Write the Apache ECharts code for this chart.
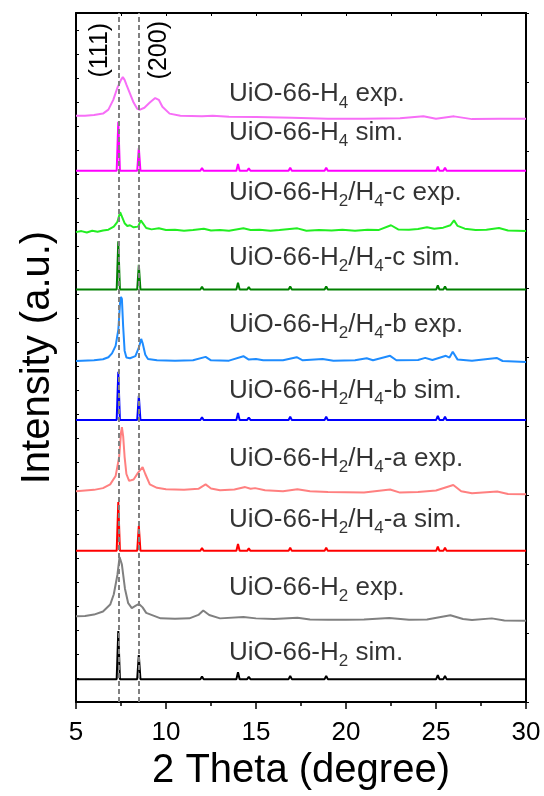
<!DOCTYPE html>
<html>
<head>
<meta charset="utf-8">
<script src="https://cdn.jsdelivr.net/npm/echarts@6/dist/echarts.min.js"></script>
<style>html,body{margin:0;padding:0;background:#fff}#c{width:544px;height:796px}</style>
</head>
<body>
<div id="c"></div>
<script>
// ---------- DATA ----------
const xTicks = [5, 10, 15, 20, 25, 30];
const refLines = [7.35, 8.48];           // (111), (200) reflections
const refLabels = ['(111)', '(200)'];
const refLabelPos = [[6.33, 94.6], [9.64, 94.6]];

// simulated peak positions (deg) shared by all simulated patterns
const simPeakPos = [7.35, 8.49, 12.0, 14.0, 14.6, 16.9, 18.9, 24.0, 25.1, 25.5, 28.0, 29.5];
const simH2     = [7.0, 3.5, 0.4, 1.0, 0.35, 0.45, 0.45, 0.25, 0.6, 0.45, 0.25, 0.2];
const simH2H4a  = [7.1, 3.6, 0.4, 1.0, 0.35, 0.45, 0.45, 0.25, 0.6, 0.45, 0.25, 0.2];
const simH2H4b  = [7.0, 3.5, 0.4, 1.0, 0.35, 0.45, 0.45, 0.25, 0.6, 0.45, 0.25, 0.2];
const simH2H4c  = [7.0, 3.6, 0.4, 1.0, 0.35, 0.45, 0.45, 0.25, 0.6, 0.45, 0.25, 0.2];
const simH4     = [7.1, 3.3, 0.4, 1.0, 0.35, 0.45, 0.45, 0.25, 0.6, 0.45, 0.25, 0.2];

// experimental patterns [2theta, intensity above own baseline]
const expH2 = [[5,0],[5.5,0.05],[6,0.25],[6.5,0.7],[6.9,1.7],[7.1,3.2],[7.3,6.0],[7.42,8.6],[7.55,7.5],[7.72,4.0],[7.9,1.9],[8.1,1.2],[8.3,1.5],[8.5,1.8],[8.7,1.3],[8.9,0.5],[9.3,0.1],[9.7,-0.3],[10.5,-0.35],[11.3,-0.3],[11.8,0.2],[12.07,0.85],[12.4,0.2],[13,-0.3],[14.3,-0.1],[15,-0.3],[16,-0.4],[17.3,-0.2],[18,-0.45],[19,-0.5],[20,-0.5],[21,-0.45],[22.4,-0.25],[23.5,-0.5],[24.5,-0.45],[25.8,0.15],[26.5,-0.4],[27,-0.55],[28.1,-0.3],[28.8,-0.6],[30,-0.65]];
const expH2H4a = [[5,0],[6,0.2],[6.5,0.45],[6.9,1.0],[7.2,2.2],[7.4,5.0],[7.5,8.5],[7.55,9.3],[7.62,8.0],[7.7,5.0],[7.8,2.5],[7.95,1.5],[8.2,1.7],[8.45,2.7],[8.7,3.5],[8.85,2.5],[9.1,1.0],[9.5,0.5],[10,0.3],[11,0.2],[11.8,0.35],[12.2,1.0],[12.5,0.4],[13,0.15],[13.8,0.25],[14.4,0.6],[14.7,0.35],[14.95,0.45],[15.5,0.15],[16.5,0],[17.3,0.3],[18,0],[19,-0.1],[20,-0.15],[21,-0.2],[22.45,0.25],[23,-0.2],[24,-0.1],[25,0.1],[25.96,0.9],[26.4,0],[27,-0.3],[28.4,-0.05],[29,-0.4],[30,-0.45]];
const expH2H4b = [[5,0],[6,0.1],[6.5,0.25],[6.8,0.55],[7.0,1.1],[7.2,2.2],[7.35,4.5],[7.45,8.5],[7.5,9.3],[7.55,9.0],[7.62,5],[7.7,1.5],[7.8,0.5],[8.0,0.4],[8.3,0.7],[8.5,2.0],[8.62,3.2],[8.7,2.6],[8.85,0.9],[9.0,0.3],[9.5,0.1],[10.5,0.05],[11.5,0.1],[12.2,0.6],[12.5,0.1],[13.5,0.05],[14.3,0.7],[14.6,0.2],[15.0,0.3],[15.4,0.1],[16.5,0.1],[17.26,0.55],[17.6,0.1],[18.7,0.3],[19.3,0.05],[20.5,0.1],[21.15,0.4],[21.5,0.1],[22.45,0.75],[22.8,0.1],[24.0,0.15],[24.4,0.45],[24.8,0.15],[25.55,0.75],[25.75,0.5],[25.93,1.35],[26.2,0.2],[27,0.05],[28.37,0.45],[28.7,0],[30,-0.15]];
const expH2H4c = [[5,0],[5.3,0.15],[5.6,-0.05],[5.9,0.2],[6.2,0.05],[6.5,0.25],[6.8,0.35],[7.1,0.8],[7.3,1.5],[7.45,2.9],[7.55,2.8],[7.7,1.3],[7.85,0.9],[8.0,1.0],[8.2,0.7],[8.45,0.8],[8.6,1.7],[8.7,1.5],[8.9,0.6],[9.2,0.4],[9.6,0.55],[10,0.3],[10.5,0.35],[11,0.2],[11.5,0.3],[12.1,0.5],[12.5,0.25],[13,0.3],[13.5,0.2],[14.3,0.55],[14.7,0.3],[15.2,0.35],[15.8,0.2],[16.3,0.3],[17.3,0.55],[17.8,0.2],[18.5,0.3],[19.2,0.25],[19.8,0.35],[20.5,0.2],[21.2,0.35],[21.8,0.3],[22.5,1.0],[22.9,0.4],[23.5,0.35],[24.0,0.45],[24.5,0.7],[24.9,0.5],[25.4,0.65],[25.8,1.0],[26.0,1.7],[26.2,0.9],[26.6,0.5],[27.2,0.3],[27.8,0.35],[28.5,0.6],[29,0.25],[29.5,0.2],[30,0.15]];
const expH4 = [[5,-0.1],[5.5,-0.1],[6,0],[6.5,0.2],[6.8,0.77],[7.07,2.2],[7.3,3.95],[7.5,5.1],[7.6,5.5],[7.7,5.1],[7.8,4.4],[8.0,3.1],[8.2,1.8],[8.4,0.9],[8.56,0.77],[8.8,1.05],[9.1,1.8],[9.4,2.46],[9.6,2.2],[9.8,1.2],[10.2,0.2],[10.8,-0.1],[12.0,-0.17],[12.6,-0.1],[13.5,-0.25],[15,-0.3],[17,-0.4],[19,-0.54],[21,-0.54],[23,-0.46],[24.3,-0.17],[25,-0.54],[26.0,-0.2],[27,-0.6],[28.5,-0.54],[30,-0.54]];

// stacking offsets (baselines)
const offsets = {
  h2sim: 3.33, h2exp: 12.45, asim: 21.95, aexp: 30.6, bsim: 40.95,
  bexp: 49.5, csim: 59.87, cexp: 68.2, h4sim: 77.1, h4exp: 85.2
};

const labelX = 13.5;
const labelTexts = [
  '{n|UiO-66-H}{s|4}{n| exp.}',
  '{n|UiO-66-H}{s|4}{n| sim.}',
  '{n|UiO-66-H}{s|2}{n|/H}{s|4}{n|-c exp.}',
  '{n|UiO-66-H}{s|2}{n|/H}{s|4}{n|-c sim.}',
  '{n|UiO-66-H}{s|2}{n|/H}{s|4}{n|-b exp.}',
  '{n|UiO-66-H}{s|2}{n|/H}{s|4}{n|-b sim.}',
  '{n|UiO-66-H}{s|2}{n|/H}{s|4}{n|-a exp.}',
  '{n|UiO-66-H}{s|2}{n|/H}{s|4}{n|-a sim.}',
  '{n|UiO-66-H}{s|2}{n| exp.}',
  '{n|UiO-66-H}{s|2}{n| sim.}'
];
const labelY = [88.2, 82.6, 73.95, 64.54, 54.7, 45.15, 35.31, 26.48, 16.64, 7.09];

// ---------- BUILD ----------
const FONT = 'Liberation Sans, Arial, Helvetica, sans-serif';
function simPoints(h, off) {
  const pts = [[5, off]];
  simPeakPos.forEach((p, i) => {
    pts.push([p - 0.09, off], [p, off + h[i]], [p + 0.09, off]);
  });
  pts.push([30, off]);
  return pts;
}
function expPoints(arr, off) { return arr.map(d => [d[0], d[1] + off]); }

const traces = [
  {d: simPoints(simH2, offsets.h2sim), c: '#000000'},
  {d: expPoints(expH2, offsets.h2exp), c: '#808080'},
  {d: simPoints(simH2H4a, offsets.asim), c: '#ff0000'},
  {d: expPoints(expH2H4a, offsets.aexp), c: '#ff8080'},
  {d: simPoints(simH2H4b, offsets.bsim), c: '#0000ff'},
  {d: expPoints(expH2H4b, offsets.bexp), c: '#1e8cff'},
  {d: simPoints(simH2H4c, offsets.csim), c: '#008000'},
  {d: expPoints(expH2H4c, offsets.cexp), c: '#22ee22'},
  {d: simPoints(simH4, offsets.h4sim), c: '#ff00ff'},
  {d: expPoints(expH4, offsets.h4exp), c: '#f76ef7'}
];

const series = traces.map(t => ({
  type: 'line', xAxisIndex: 0, yAxisIndex: 1, data: t.d,
  showSymbol: false, symbol: 'none', smooth: false, animation: false,
  lineStyle: {color: t.c, width: 2}, z: 3
}));

series.push({
  type: 'line', xAxisIndex: 0, yAxisIndex: 1, data: [], animation: false,
  markLine: {
    silent: true, symbol: 'none', animation: false,
    label: {show: false},
    lineStyle: {color: '#808080', type: [5, 3], width: 2},
    data: refLines.map(v => ({xAxis: v}))
  }, z: 5
});

series.push({
  type: 'scatter', xAxisIndex: 0, yAxisIndex: 1, symbolSize: 0, silent: true, animation: false, z: 10,
  data: labelY.map((y, i) => ({value: [labelX, y], name: labelTexts[i]})),
  label: {
    show: true, position: 'right', distance: 0,
    formatter: p => p.name,
    rich: {
      n: {fontSize: 26, fontFamily: FONT, color: '#000', verticalAlign: 'middle'},
      s: {fontSize: 17, fontFamily: FONT, color: '#000', verticalAlign: 'bottom'}
    },
    lineHeight: 34
  }
});

const chart = echarts.init(document.getElementById('c'), null, {renderer: 'canvas'});
chart.setOption({
  backgroundColor: '#fff',
  animation: false,
  grid: {left: 76, right: 18, top: 13, bottom: 92},
  xAxis: [{
    type: 'value', position: 'bottom', min: xTicks[0], max: xTicks[xTicks.length - 1], interval: 5,
    axisLine: {show: true, onZero: false, lineStyle: {color: '#000', width: 2}},
    axisTick: {show: true, inside: false, length: 7, lineStyle: {color: '#000', width: 1.5}},
    minorTick: {show: true, splitNumber: 2, length: 4, lineStyle: {color: '#000', width: 1.5}},
    splitLine: {show: false},
    axisLabel: {fontSize: 26, fontFamily: FONT, color: '#000', margin: 18},
    name: '2 Theta (degree)', nameLocation: 'middle', nameGap: 46,
    nameTextStyle: {fontSize: 40, fontFamily: FONT, color: '#000'}
  }, {
    type: 'value', position: 'top', min: 5, max: 30, interval: 2.5,
    axisLine: {show: true, onZero: false, lineStyle: {color: '#000', width: 2}},
    axisTick: {show: true, inside: true, length: 3, lineStyle: {color: '#000', width: 1}},
    axisLabel: {show: false}, splitLine: {show: false}
  }],
  yAxis: [{
    type: 'value', position: 'left', min: 0, max: 28.71, interval: 1,
    axisLine: {show: true, onZero: false, lineStyle: {color: '#000', width: 2}},
    axisTick: {show: true, inside: true, length: 3, lineStyle: {color: '#000', width: 1}},
    axisLabel: {show: false}, splitLine: {show: false},
    name: 'Intensity (a.u.)', nameLocation: 'middle', nameGap: 18, nameRotate: 90,
    nameTextStyle: {fontSize: 40, fontFamily: FONT, color: '#000'}
  }, {
    type: 'value', position: 'right', min: 0, max: 100, interval: 10,
    axisLine: {show: true, onZero: false, lineStyle: {color: '#000', width: 2}},
    axisTick: {show: true, inside: false, length: 3, lineStyle: {color: '#000', width: 1}},
    axisLabel: {show: false}, splitLine: {show: false}
  }],
  series: series
});

// reflection labels, positioned through the chart's own scales
const graphics = refLabelPos.map((p, i) => {
  const px = chart.convertToPixel({xAxisIndex: 0, yAxisIndex: 1}, p);
  return {
    type: 'text', x: px[0], y: px[1], rotation: Math.PI / 2, z: 20, silent: true,
    style: {text: refLabels[i], fontSize: 25, fontFamily: FONT, fill: '#000',
            align: 'center', verticalAlign: 'middle'}
  };
});
chart.setOption({graphic: graphics});
</script>
</body>
</html>
